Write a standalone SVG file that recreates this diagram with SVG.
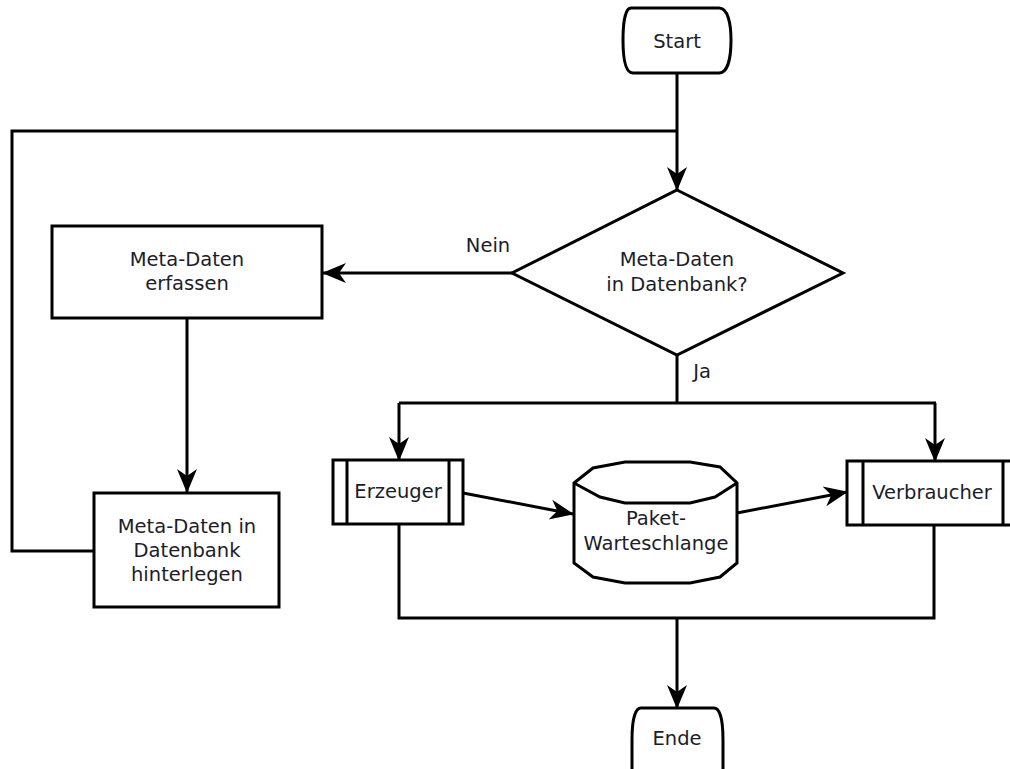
<svg xmlns="http://www.w3.org/2000/svg" width="1010" height="769" viewBox="0 0 1010 769">
  <style>
    .shape { fill: #ffffff; stroke: #000000; stroke-width: 3; stroke-linejoin: miter; }
    .line { fill: none; stroke: #000000; stroke-width: 3; }
    .label { font-family: "DejaVu Sans", Verdana, sans-serif; font-size: 19.5px; fill: #1c1c2a; text-anchor: middle; }
  </style>
  <defs>
    <marker id="arrow" viewBox="0 0 24 22" refX="23" refY="11" markerWidth="24" markerHeight="22" markerUnits="userSpaceOnUse" orient="auto">
      <path d="M0,1 L24,11 L0,21 L7,11 Z" fill="#000000"/>
    </marker>
  </defs>
  <rect width="1010" height="769" fill="#ffffff"/>

  <g id="connectors">
    <!-- start to decision, with the loop back joining -->
    <path class="line" d="M677,73 V190" marker-end="url(#arrow)"/>
    <path class="line" d="M94,551 H12 V131 H677"/>
    <!-- Nein branch -->
    <path class="line" d="M512,273 H323" marker-end="url(#arrow)"/>
    <path class="line" d="M187,318 V492" marker-end="url(#arrow)"/>
    <!-- Ja branch -->
    <path class="line" d="M677,355 V403"/>
    <path class="line" d="M399,403 H936"/>
    <path class="line" d="M399,403 V460" marker-end="url(#arrow)"/>
    <path class="line" d="M935,403 V461" marker-end="url(#arrow)"/>
    <!-- producer / queue / consumer -->
    <path class="line" d="M463,493 L573,514" marker-end="url(#arrow)"/>
    <path class="line" d="M737,513 L847,492" marker-end="url(#arrow)"/>
    <!-- merge to end -->
    <path class="line" d="M399,524 V618 H934 V525"/>
    <path class="line" d="M677,618 V708" marker-end="url(#arrow)"/>
  </g>

  <g id="start">
    <path class="shape" d="M631,8 H719 C728,8 731,24 731,40 C731,57 728,73 719,73 H633 C625,73 623,57 623,40 C623,24 625,8 631,8 Z"/>
    <text class="label" x="677" y="48">Start</text>
  </g>

  <g id="decision">
    <polygon class="shape" points="677,190 843,273 677,355 512,273"/>
    <text class="label" x="677" y="266">Meta-Daten</text>
    <text class="label" x="677" y="291">in Datenbank?</text>
  </g>

  <text id="label-nein" class="label" x="488" y="252">Nein</text>
  <text id="label-ja" class="label" x="702" y="378">Ja</text>

  <g id="erfassen">
    <rect class="shape" x="52" y="226" width="270" height="92"/>
    <text class="label" x="187" y="266">Meta-Daten</text>
    <text class="label" x="187" y="290">erfassen</text>
  </g>

  <g id="hinterlegen">
    <rect class="shape" x="94" y="493" width="185" height="114"/>
    <text class="label" x="187" y="533">Meta-Daten in</text>
    <text class="label" x="187" y="557">Datenbank</text>
    <text class="label" x="187" y="581">hinterlegen</text>
  </g>

  <g id="erzeuger">
    <rect class="shape" x="333" y="460" width="130" height="64"/>
    <path class="line" d="M347,460 V524 M449,460 V524"/>
    <text class="label" x="398" y="498">Erzeuger</text>
  </g>

  <g id="warteschlange">
    <path class="shape" d="M574,483 L593,468 L625,462 H690 L720,467 L737,483 V563 L720,577 L690,583 H625 L593,577 L574,563 Z"/>
    <path class="line" d="M574,483 L600,497 L625,503 H690 L715,497 L737,483"/>
    <text class="label" x="656" y="525">Paket-</text>
    <text class="label" x="656" y="550">Warteschlange</text>
  </g>

  <g id="verbraucher">
    <rect class="shape" x="847" y="461" width="170" height="64"/>
    <path class="line" d="M863,461 V525 M1003,461 V525"/>
    <text class="label" x="932" y="499">Verbraucher</text>
  </g>

  <g id="ende">
    <path class="shape" d="M641,708 H714 C721,708 723,724 723,740 V780 H632 V740 C632,724 634,708 641,708 Z"/>
    <text class="label" x="677" y="745">Ende</text>
  </g>
</svg>
